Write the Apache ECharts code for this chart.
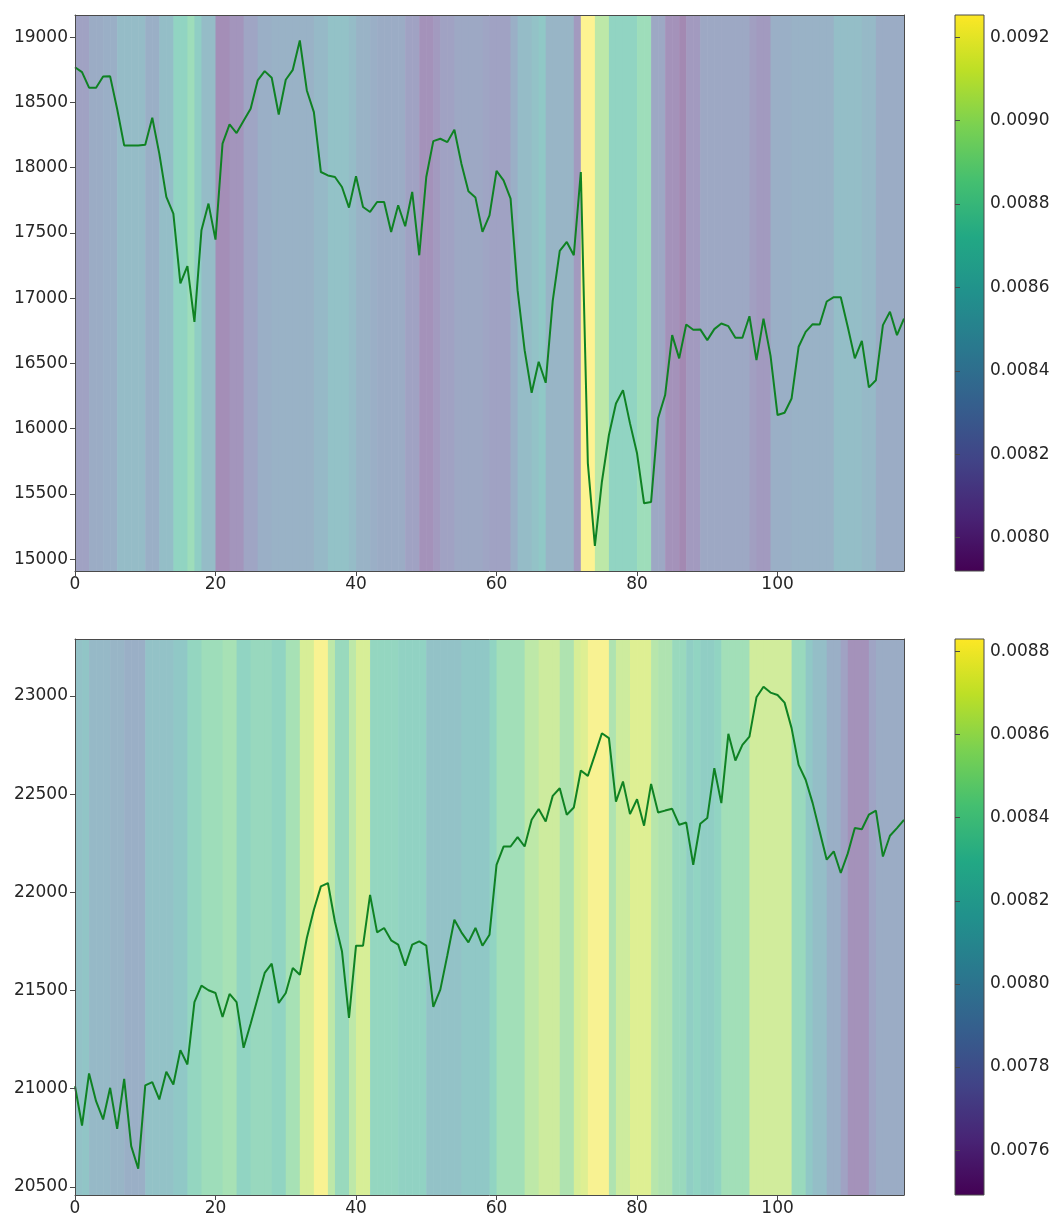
<!DOCTYPE html>
<html>
<head>
<meta charset="utf-8">
<script src="https://cdn.jsdelivr.net/npm/echarts@6/dist/echarts.min.js"></script>
<style>
  html, body { margin: 0; padding: 0; background: #ffffff; }
  #chart { width: 1055px; height: 1218px; }
</style>
</head>
<body>
<div id="chart"></div>
<script>
// Price series, one value per step (0..118)
const topPrice = [
  18770, 18732, 18613, 18613, 18699, 18700, 18450, 18171, 18170, 18170,
  18175, 18383, 18108, 17776, 17648, 17113, 17245, 16819, 17521, 17725,
  17449, 18184, 18332, 18265, 18360, 18452, 18669, 18740, 18689, 18408,
  18674, 18750, 18975, 18592, 18426, 17967, 17941, 17929, 17852, 17694,
  17934, 17699, 17661, 17737, 17737, 17508, 17712, 17551, 17814, 17329,
  17929, 18204, 18222, 18196, 18291, 18031, 17819, 17771, 17508, 17635,
  17975, 17903, 17763, 17060, 16602, 16275, 16513, 16352, 16980, 17362,
  17431, 17329, 17967, 15735, 15102, 15594, 15952, 16194, 16296, 16041,
  15812, 15429, 15439, 16080, 16258, 16717, 16539, 16799, 16758, 16761,
  16679, 16763, 16806, 16786, 16697, 16697, 16862, 16526, 16844, 16560,
  16105, 16122, 16232, 16628, 16742, 16801, 16799, 16975, 17008, 17008,
  16780, 16539, 16673, 16317, 16372, 16794, 16896, 16717, 16844
];
const bottomPrice = [
  21012, 20812, 21077, 20936, 20843, 21004, 20795, 21050, 20707, 20592,
  21016, 21033, 20945, 21086, 21021, 21196, 21123, 21440, 21524, 21501,
  21487, 21365, 21482, 21440, 21208, 21330, 21460, 21589, 21636, 21436,
  21487, 21614, 21580, 21767, 21911, 22030, 22047, 21850, 21700, 21360,
  21728, 21728, 21987, 21796, 21818, 21755, 21733, 21626, 21733, 21750,
  21728, 21416, 21504, 21679, 21860, 21796, 21745, 21818, 21728, 21784,
  22140, 22233, 22233, 22281, 22233, 22369, 22424, 22360, 22491, 22530,
  22395, 22432, 22620, 22593, 22700, 22810, 22785, 22462, 22564, 22398,
  22474, 22339, 22552, 22406, 22416, 22425, 22344, 22355, 22140, 22349,
  22378, 22632, 22454, 22807, 22671, 22751, 22793, 22993, 23047, 23017,
  23005, 22966, 22836, 22649, 22573, 22454, 22310, 22166, 22208, 22098,
  22198, 22327, 22321, 22395, 22416, 22182, 22288, 22327, 22369
];

// Band intensity, one value per unit-wide column (column i spans i..i+1)
const topHeat = [
  0.008186, 0.008186, 0.008292, 0.008292, 0.008319, 0.008319, 0.008452, 0.008452, 0.008452, 0.008452,
  0.008319, 0.008319, 0.008479, 0.008479, 0.008718, 0.008718, 0.008824, 0.008652, 0.008452, 0.008452,
  0.008026, 0.008026, 0.008080, 0.008080, 0.008213, 0.008213, 0.008319, 0.008319, 0.008346, 0.008346,
  0.008346, 0.008346, 0.008346, 0.008346, 0.008425, 0.008425, 0.008519, 0.008519, 0.008519, 0.008452,
  0.008359, 0.008359, 0.008319, 0.008292, 0.008292, 0.008292, 0.008292, 0.008186, 0.008186, 0.008053,
  0.008053, 0.008120, 0.008186, 0.008186, 0.008253, 0.008253, 0.008253, 0.008253, 0.008213, 0.008186,
  0.008186, 0.008186, 0.008319, 0.008452, 0.008452, 0.008519, 0.008585, 0.008386, 0.008386, 0.008386,
  0.008386, 0.008120, 0.009250, 0.009250, 0.008984, 0.008984, 0.008718, 0.008718, 0.008718, 0.008718,
  0.008824, 0.008824, 0.008253, 0.008253, 0.008053, 0.008053, 0.007987, 0.008120, 0.008120, 0.008253,
  0.008253, 0.008253, 0.008253, 0.008253, 0.008253, 0.008253, 0.008159, 0.008120, 0.008120, 0.008319,
  0.008319, 0.008319, 0.008346, 0.008346, 0.008346, 0.008346, 0.008346, 0.008346, 0.008479, 0.008479,
  0.008479, 0.008479, 0.008425, 0.008425, 0.008292, 0.008292, 0.008292, 0.008292
];
const bottomHeat = [
  0.008093, 0.008133, 0.007999, 0.007999, 0.007999, 0.007959, 0.007959, 0.007892, 0.007892, 0.007892,
  0.008093, 0.008093, 0.008093, 0.008093, 0.008160, 0.008160, 0.008321, 0.008321, 0.008401, 0.008401,
  0.008401, 0.008455, 0.008455, 0.008294, 0.008294, 0.008348, 0.008348, 0.008348, 0.008294, 0.008294,
  0.008455, 0.008455, 0.008669, 0.008669, 0.008803, 0.008803, 0.008562, 0.008361, 0.008361, 0.008562,
  0.008669, 0.008669, 0.008321, 0.008321, 0.008321, 0.008321, 0.008267, 0.008267, 0.008267, 0.008267,
  0.008093, 0.008093, 0.008093, 0.008093, 0.008093, 0.008160, 0.008160, 0.008160, 0.008160, 0.008294,
  0.008428, 0.008428, 0.008428, 0.008428, 0.008562, 0.008562, 0.008629, 0.008629, 0.008629, 0.008495,
  0.008495, 0.008669, 0.008696, 0.008803, 0.008803, 0.008803, 0.008495, 0.008629, 0.008629, 0.008696,
  0.008696, 0.008696, 0.008535, 0.008495, 0.008495, 0.008361, 0.008361, 0.008227, 0.008294, 0.008227,
  0.008227, 0.008294, 0.008428, 0.008428, 0.008428, 0.008428, 0.008642, 0.008642, 0.008642, 0.008642,
  0.008642, 0.008642, 0.008361, 0.008361, 0.008160, 0.008053, 0.008053, 0.007892, 0.007892, 0.007758,
  0.007624, 0.007624, 0.007624, 0.007785, 0.007865, 0.007865, 0.007865, 0.007865
];

// Tick labels
const stepTicks = [0, 20, 40, 60, 80, 100];
const topPriceTicks = [15000, 15500, 16000, 16500, 17000, 17500, 18000, 18500, 19000];
const bottomPriceTicks = [20500, 21000, 21500, 22000, 22500, 23000];
const topBarTicks = [0.0080, 0.0082, 0.0084, 0.0086, 0.0088, 0.0090, 0.0092];
const bottomBarTicks = [0.0076, 0.0078, 0.0080, 0.0082, 0.0084, 0.0086, 0.0088];

// Axis limits
const stepRange = [0, 118];
const topPriceRange = [14910, 19170];
const bottomPriceRange = [20458, 23290];
const topBarRange = [0.00792, 0.009253];
const bottomBarRange = [0.007492, 0.00883];

// Viridis colormap stops
const viridis = ['#440154', '#482475', '#414487', '#355f8d', '#2a788e', '#21918c',
                 '#22a884', '#44bf70', '#7ad151', '#bddf26', '#fde725'];
// Same stops washed 50% toward white (half-transparent bands over a white plot)
const viridisWashed = viridis.map(function (hex) {
  const n = parseInt(hex.slice(1), 16);
  const r = Math.round(((n >> 16) & 255) / 2 + 127.5);
  const g = Math.round(((n >> 8) & 255) / 2 + 127.5);
  const b = Math.round((n & 255) / 2 + 127.5);
  return 'rgb(' + r + ',' + g + ',' + b + ')';
});

const FONT = 'DejaVu Sans';
const INK = '#262626';
const SPINE = '#4a4a4a';
const LINE_GREEN = '#0f8223';

const PLOT_LEFT = 75, PLOT_W = 829, PLOT_H = 556;
const TOP_Y = 15, BOTTOM_Y = 639;
const BAR_LEFT = 955, BAR_W = 29;

function stripeItem(params, api) {
  const i = api.value(0);
  const cs = params.coordSys;
  const x0 = api.coord([i, 0])[0];
  const x1 = Math.min(api.coord([i + 1, 0])[0] + 0.6, cs.x + cs.width);
  return {
    type: 'rect',
    shape: { x: x0, y: cs.y, width: x1 - x0, height: cs.height },
    style: { fill: api.visual('color') }
  };
}

function colorbarItem(params, api) {
  const p0 = api.coord([0, api.value(1)]);
  const p1 = api.coord([1, api.value(2)]);
  const stops = viridis.map(function (c, k) { return { offset: k / (viridis.length - 1), color: c }; });
  return {
    type: 'rect',
    shape: { x: p0[0], y: p1[1], width: p1[0] - p0[0], height: p0[1] - p1[1] },
    style: {
      fill: new echarts.graphic.LinearGradient(0, 1, 0, 0, stops),
      stroke: SPINE, lineWidth: 1
    }
  };
}

function stepAxis(grid) {
  return {
    gridIndex: grid, type: 'value', min: stepRange[0], max: stepRange[1], interval: 20,
    position: 'bottom', z: 10,
    axisLine: { show: true, onZero: false, lineStyle: { color: SPINE, width: 1 } },
    axisTick: { show: true, length: 5, customValues: stepTicks, lineStyle: { color: SPINE } },
    axisLabel: { customValues: stepTicks, color: INK, fontSize: 17, fontFamily: FONT, margin: 5,
                 formatter: function (v) { return String(v); } },
    splitLine: { show: false }
  };
}
function frameX(grid) {
  return {
    gridIndex: grid, type: 'value', min: stepRange[0], max: stepRange[1], position: 'top', z: 10,
    axisLine: { show: true, onZero: false, lineStyle: { color: SPINE, width: 1 } },
    axisTick: { show: false }, axisLabel: { show: false }, splitLine: { show: false }
  };
}
function priceAxis(grid, range, ticks) {
  return {
    gridIndex: grid, type: 'value', min: range[0], max: range[1], position: 'left', z: 10,
    axisLine: { show: true, onZero: false, lineStyle: { color: SPINE, width: 1 } },
    axisTick: { show: true, length: 5, customValues: ticks, lineStyle: { color: SPINE } },
    axisLabel: { customValues: ticks, color: INK, fontSize: 17, fontFamily: FONT, margin: 7,
                 formatter: function (v) { return String(v); } },
    splitLine: { show: false }
  };
}
function frameY(grid, range) {
  return {
    gridIndex: grid, type: 'value', min: range[0], max: range[1], position: 'right', z: 10,
    axisLine: { show: true, onZero: false, lineStyle: { color: SPINE, width: 1 } },
    axisTick: { show: false }, axisLabel: { show: false }, splitLine: { show: false }
  };
}
function barX(grid) {
  return { gridIndex: grid, type: 'value', min: 0, max: 1, show: false };
}
function barY(grid, range, ticks) {
  return {
    gridIndex: grid, type: 'value', min: range[0], max: range[1], position: 'right', z: 10,
    axisLine: { show: false },
    axisTick: { show: true, length: 5, customValues: ticks, lineStyle: { color: SPINE } },
    axisLabel: { customValues: ticks, color: INK, fontSize: 17, fontFamily: FONT, margin: 6,
                 formatter: function (v) { return v.toFixed(4); } },
    splitLine: { show: false }
  };
}

const chart = echarts.init(document.getElementById('chart'), null, { renderer: 'canvas' });

chart.setOption({
  animation: false,
  backgroundColor: '#ffffff',
  grid: [
    { left: PLOT_LEFT, top: TOP_Y, width: PLOT_W, height: PLOT_H },
    { left: PLOT_LEFT, top: BOTTOM_Y, width: PLOT_W, height: PLOT_H },
    { left: BAR_LEFT, top: TOP_Y, width: BAR_W, height: PLOT_H },
    { left: BAR_LEFT, top: BOTTOM_Y, width: BAR_W, height: PLOT_H }
  ],
  xAxis: [stepAxis(0), frameX(0), stepAxis(1), frameX(1), barX(2), barX(3)],
  yAxis: [
    priceAxis(0, topPriceRange, topPriceTicks), frameY(0, topPriceRange),
    priceAxis(1, bottomPriceRange, bottomPriceTicks), frameY(1, bottomPriceRange),
    barY(2, topBarRange, topBarTicks), barY(3, bottomBarRange, bottomBarTicks)
  ],
  visualMap: [
    { type: 'continuous', show: false, seriesIndex: 0, dimension: 1,
      min: topBarRange[0], max: topBarRange[1], inRange: { color: viridisWashed } },
    { type: 'continuous', show: false, seriesIndex: 2, dimension: 1,
      min: bottomBarRange[0], max: bottomBarRange[1], inRange: { color: viridisWashed } }
  ],
  series: [
    { type: 'custom', xAxisIndex: 0, yAxisIndex: 0, silent: true, z: 1,
      renderItem: stripeItem, data: topHeat.map(function (v, i) { return [i, v]; }) },
    { type: 'line', xAxisIndex: 0, yAxisIndex: 0, silent: true, z: 5,
      symbol: 'none', data: topPrice.map(function (v, i) { return [i, v]; }),
      lineStyle: { color: LINE_GREEN, width: 2 }, itemStyle: { color: LINE_GREEN } },
    { type: 'custom', xAxisIndex: 2, yAxisIndex: 2, silent: true, z: 1,
      renderItem: stripeItem, data: bottomHeat.map(function (v, i) { return [i, v]; }) },
    { type: 'line', xAxisIndex: 2, yAxisIndex: 2, silent: true, z: 5,
      symbol: 'none', data: bottomPrice.map(function (v, i) { return [i, v]; }),
      lineStyle: { color: LINE_GREEN, width: 2 }, itemStyle: { color: LINE_GREEN } },
    { type: 'custom', xAxisIndex: 4, yAxisIndex: 4, silent: true,
      renderItem: colorbarItem, data: [[0, topBarRange[0], topBarRange[1]]] },
    { type: 'custom', xAxisIndex: 5, yAxisIndex: 5, silent: true,
      renderItem: colorbarItem, data: [[0, bottomBarRange[0], bottomBarRange[1]]] }
  ]
});
</script>
</body>
</html>
